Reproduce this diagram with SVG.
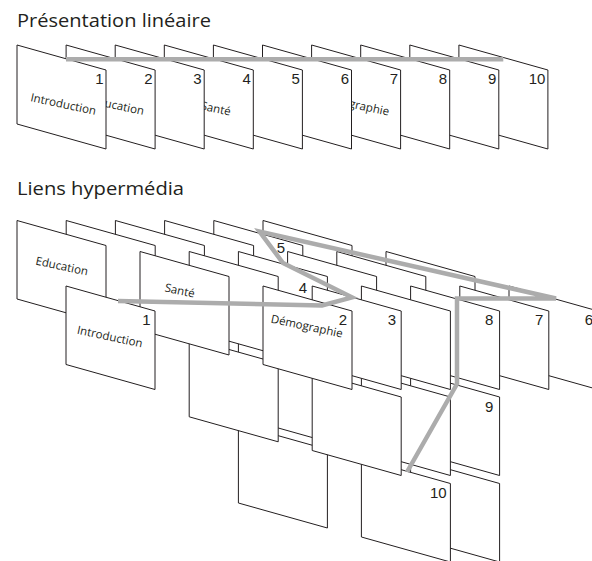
<svg xmlns="http://www.w3.org/2000/svg" xmlns:xlink="http://www.w3.org/1999/xlink" width="592" height="561" viewBox="0 0 592 561">
  <defs>
    <!-- one page drawn as a slanted sheet; origin = top-left corner -->
    <path id="sheetT" d="M0 0L89 25V104L0 79Z"/>
    <path id="sheet" d="M0 0L89 25V103.5L0 78.5Z"/>
    <style>
      .card { fill: #fff; stroke: #231f20; stroke-width: 1; }
      .num { font-family: "Liberation Sans", Arial, sans-serif; font-size: 15px; fill: #231f20; text-anchor: end; }
      .lbl { font-family: "Open Sans", "Noto Sans", sans-serif; font-size: 11.5px; fill: #231f20; text-anchor: middle; }
      .title { font-family: "Open Sans", "Noto Sans", sans-serif; font-size: 18px; fill: #231f20; }
      .link { fill: none; stroke: #acacac; stroke-width: 4.5; stroke-linejoin: miter; }
    </style>
  </defs>
  <rect width="592" height="561" fill="#fff"/>

  <!-- ===== Linear presentation ===== -->
  <text class="title" x="17" y="27" textLength="194" lengthAdjust="spacingAndGlyphs">Présentation linéaire</text>

  <g id="linear">
    <g id="lin-10"><use xlink:href="#sheetT" class="card" x="458.9" y="45"/><text class="num" x="545.4" y="83.5">10</text></g>
    <g id="lin-9"><use xlink:href="#sheetT" class="card" x="409.8" y="45"/><text class="num" x="496.3" y="83.5">9</text></g>
    <g id="lin-8"><use xlink:href="#sheetT" class="card" x="360.7" y="45"/><text class="num" x="447.2" y="83.5">8</text></g>
    <g id="lin-7"><use xlink:href="#sheetT" class="card" x="311.6" y="45"/><text class="num" x="398.1" y="83.5">7</text>
      <text class="lbl" x="352.5" y="108" transform="rotate(12 352.5 108)">Démographie</text></g>
    <g id="lin-6"><use xlink:href="#sheetT" class="card" x="262.5" y="45"/><text class="num" x="349" y="83.5">6</text></g>
    <g id="lin-5"><use xlink:href="#sheetT" class="card" x="213.4" y="45"/><text class="num" x="299.9" y="83.5">5</text></g>
    <g id="lin-4"><use xlink:href="#sheetT" class="card" x="164.3" y="45"/><text class="num" x="250.8" y="83.5">4</text>
      <text class="lbl" x="215" y="112.5" transform="rotate(12 215 112.5)">Santé</text></g>
    <g id="lin-3"><use xlink:href="#sheetT" class="card" x="115.2" y="45"/><text class="num" x="201.7" y="83.5">3</text></g>
    <g id="lin-2"><use xlink:href="#sheetT" class="card" x="66.1" y="45"/><text class="num" x="152.6" y="83.5">2</text>
      <text class="lbl" x="117" y="109.5" transform="rotate(12 117 109.5)">Education</text></g>
    <g id="lin-1"><use xlink:href="#sheetT" class="card" x="17" y="45"/><text class="num" x="103.5" y="83.5">1</text>
      <text class="lbl" x="62.5" y="108" transform="rotate(12 62.5 108)">Introduction</text></g>
  </g>

  <g id="linear-links">
    <path class="link" d="M66 59.3H503.3"/>
  </g>

  <!-- ===== Hypermedia links ===== -->
  <text class="title" x="17" y="195" textLength="167" lengthAdjust="spacingAndGlyphs">Liens hypermédia</text>

  <!-- sheets painted from the deepest layer to the front -->
  <g id="hyper">
    <!-- depth 5 -->
    <g id="edu-5"><use xlink:href="#sheet" class="card" x="263" y="220.5"/></g>
    <g id="san-5"><use xlink:href="#sheet" class="card" x="386" y="251.5"/></g>
    <g id="dem-5"><use xlink:href="#sheet" class="card" x="509" y="286"/><text class="num" x="593" y="325">6</text></g>
    <!-- depth 4 -->
    <g id="edu-4"><use xlink:href="#sheet" class="card" x="213.8" y="220.5"/><text class="num" x="285" y="253">5</text></g>
    <g id="san-4"><use xlink:href="#sheet" class="card" x="336.8" y="251.5"/></g>
    <g id="dem-4"><use xlink:href="#sheet" class="card" x="459.8" y="286"/><text class="num" x="543.3" y="325">7</text></g>
    <!-- depth 3 -->
    <g id="edu-3"><use xlink:href="#sheet" class="card" x="164.6" y="220.5"/></g>
    <g id="san-3"><use xlink:href="#sheet" class="card" x="287.6" y="251.5"/></g>
    <g id="dem-3"><use xlink:href="#sheet" class="card" x="410.6" y="286"/><text class="num" x="493.3" y="325">8</text></g>
    <g id="dem-3b"><use xlink:href="#sheet" class="card" x="410.6" y="372"/><text class="num" x="493.3" y="411.5">9</text></g>
    <g id="dem-3c"><use xlink:href="#sheet" class="card" x="410.6" y="458.5"/></g>
    <!-- depth 2 -->
    <g id="edu-2"><use xlink:href="#sheet" class="card" x="115.4" y="220.5"/></g>
    <g id="san-2"><use xlink:href="#sheet" class="card" x="238.4" y="251.5"/><text class="num" x="307" y="293">4</text></g>
    <g id="san-2b"><use xlink:href="#sheet" class="card" x="238.4" y="338.3"/></g>
    <g id="san-2c"><use xlink:href="#sheet" class="card" x="238.4" y="424.5"/></g>
    <g id="dem-2"><use xlink:href="#sheet" class="card" x="361.4" y="286"/></g>
    <g id="dem-2b"><use xlink:href="#sheet" class="card" x="361.4" y="372"/></g>
    <g id="dem-2c"><use xlink:href="#sheet" class="card" x="361.4" y="458.5"/><text class="num" x="446.7" y="498">10</text></g>
    <!-- depth 1 -->
    <g id="edu-1"><use xlink:href="#sheet" class="card" x="66.2" y="220.5"/></g>
    <g id="san-1"><use xlink:href="#sheet" class="card" x="189.2" y="251.5"/></g>
    <g id="san-1b"><use xlink:href="#sheet" class="card" x="189.2" y="338.3"/></g>
    <g id="dem-1"><use xlink:href="#sheet" class="card" x="312.2" y="286"/><text class="num" x="396" y="325">3</text></g>
    <g id="dem-1b"><use xlink:href="#sheet" class="card" x="312.2" y="372"/></g>
    <!-- depth 0: section heads -->
    <g id="education"><use xlink:href="#sheet" class="card" x="17" y="220.5"/>
      <text class="lbl" x="61" y="270" transform="rotate(12 61 270)">Education</text></g>
    <g id="sante"><use xlink:href="#sheet" class="card" x="140" y="251.5"/>
      <text class="lbl" x="179" y="294.5" transform="rotate(12 179 294.5)">Santé</text></g>
    <g id="demographie"><use xlink:href="#sheet" class="card" x="263" y="286"/><text class="num" x="347" y="325">2</text>
      <text class="lbl" x="306" y="330" transform="rotate(12 306 330)">Démographie</text></g>
    <!-- front -->
    <g id="introduction"><use xlink:href="#sheet" class="card" x="66" y="286"/><text class="num" x="150.5" y="325">1</text>
      <text class="lbl" x="109" y="340.5" transform="rotate(12 109 340.5)">Introduction</text></g>
  </g>

  <g id="hyper-links">
    <path class="link" d="M118 301L322 305.5L352 297.3L283 263L259.5 231.5L556 298.5L457 298.5L457 384L407 472"/>
  </g>
</svg>
